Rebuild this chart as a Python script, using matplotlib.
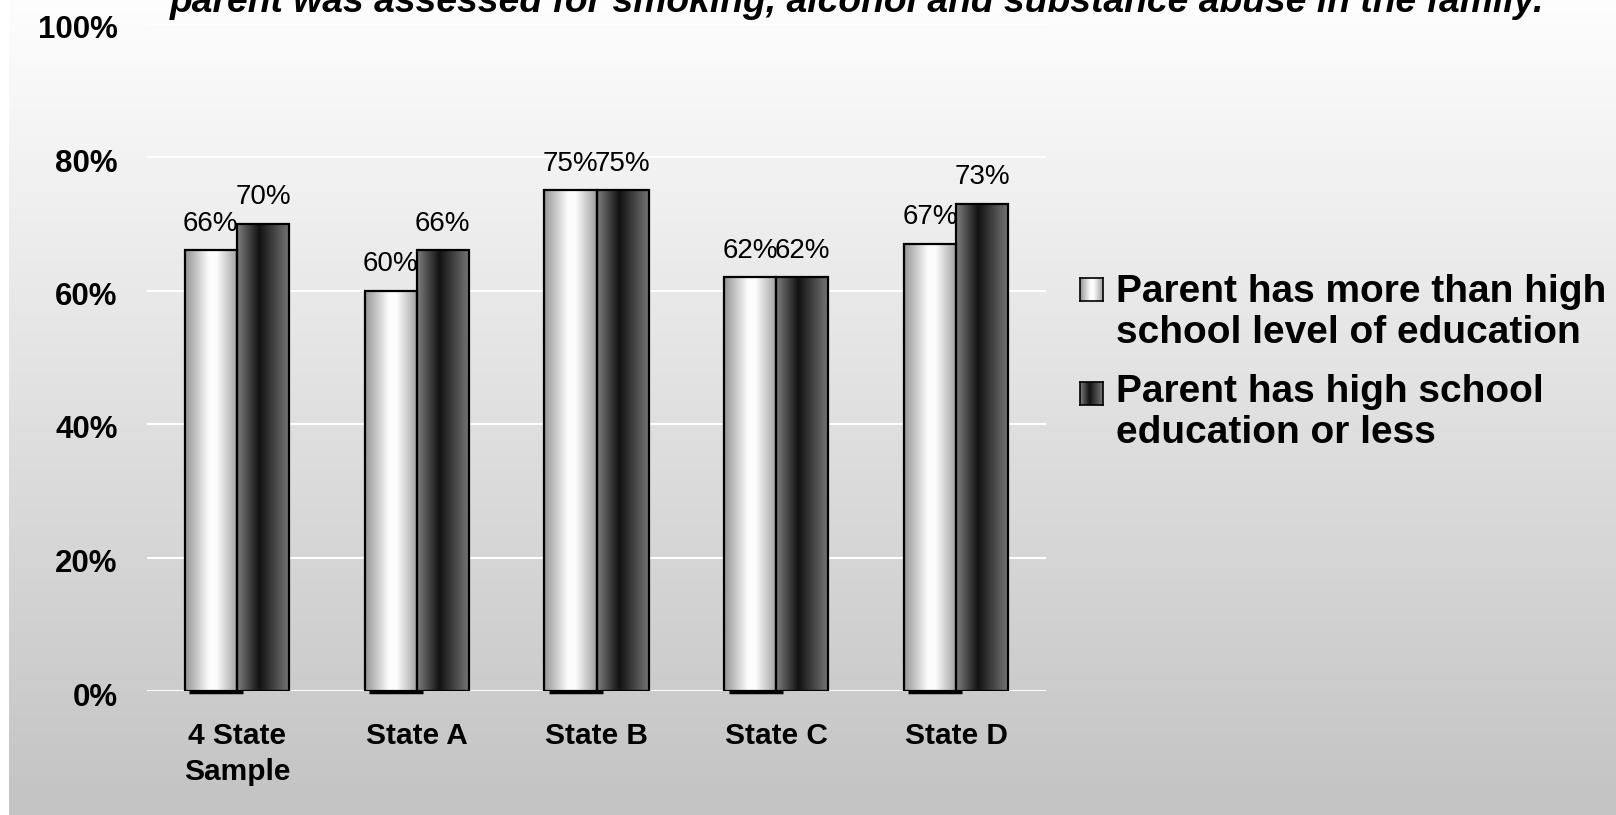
import numpy as np
import matplotlib.pyplot as plt
from matplotlib.transforms import ScaledTranslation

categories = ["4 State\nSample", "State A", "State B", "State C", "State D"]
more_than_hs = [66, 60, 75, 62, 67]
hs_or_less = [70, 66, 75, 62, 73]
series_names = ["Parent has more than high\nschool level of education",
                "Parent has high school\neducation or less"]
yticks = [0, 20, 40, 60, 80, 100]
title = "parent was assessed for smoking, alcohol and substance abuse in the family."

plt.rcParams["font.family"] = ["Liberation Sans", "DejaVu Sans"]

W, H = 1616, 815


def shade(stops, vals, n=200):
    g = np.interp(np.linspace(0, 1, n), stops, vals)
    return np.stack([g, g, g], axis=-1)[None, :, :]


light = shade([0, 0.45, 0.6, 1], [0.58, 0.99, 0.99, 0.62])
dark = shade([0, 0.42, 1], [0.50, 0.07, 0.47])

fig = plt.figure(figsize=(W / 100, H / 100), dpi=100)
fig.patch.set_facecolor("white")

# background gradient
bg = fig.add_axes([9 / W, 0, 1 - 9 / W, 1], zorder=-10)
col = np.linspace(0.995, 0.765, 256)
bg.imshow(np.stack([col, col, col], axis=-1)[:, None, :], aspect="auto",
          extent=[0, 1, 0, 1])
bg.axis("off")

ax = fig.add_axes([147 / W, 1 - 691 / H, (1046 - 147) / W, (691 - 23.5) / H])
ax.patch.set_visible(False)

x = np.arange(len(categories))
w = 0.29
for vals, img, off in [(more_than_hs, light, -w / 2), (hs_or_less, dark, w / 2)]:
    bars = ax.bar(x + off, vals, w, facecolor="none", edgecolor="black",
                  linewidth=1.6, zorder=3)
    for b, v in zip(bars, vals):
        ax.imshow(img, extent=[b.get_x(), b.get_x() + b.get_width(), 0, v],
                  aspect="auto", zorder=2)
        ax.annotate(f"{v}%", (b.get_x() + b.get_width() / 2, v),
                    xytext=(0, 14), textcoords="offset points",
                    ha="center", va="baseline", fontsize=20, zorder=5)

# shadow under the light bars
ax.hlines([-0.2] * len(x), x - w + 0.025, x + 0.035, color="black",
          linewidth=2.5, clip_on=False, zorder=1)

ax.set_xlim(-0.5, len(categories) - 0.5)
ax.set_ylim(0, 100)
ax.set_yticks(yticks)
ax.set_yticklabels([f"{t}%" for t in yticks], fontsize=22.5, fontweight="bold")
ax.set_xticks(x)
ax.set_xticklabels(categories, fontsize=21.5, fontweight="bold", linespacing=1.4)
ax.tick_params(axis="y", length=0, pad=21)
ax.tick_params(axis="x", length=0, pad=22)
shift = ScaledTranslation(0, -3 / 100, fig.dpi_scale_trans)
for lab in ax.get_yticklabels():
    lab.set_transform(lab.get_transform() + shift)
ax.yaxis.grid(True, color="white", linewidth=1.5, zorder=0)
ax.set_axisbelow(True)
for s in ax.spines.values():
    s.set_visible(False)

fig.text(170 / W, 1 - 12 / H, title, ha="left", va="baseline",
         fontsize=26.8, fontweight="bold", fontstyle="italic")

# legend drawn by hand
item_tops = [278, 382]
baselines = [[302, 343], [402, 443]]
for img, name, top, bl in zip([light, dark], series_names, item_tops, baselines):
    hax = fig.add_axes([1080 / W, 1 - (top + 23) / H, 23 / W, 23 / H])
    hax.imshow(img, aspect="auto", extent=[0, 1, 0, 1])
    hax.set_xticks([])
    hax.set_yticks([])
    for s in hax.spines.values():
        s.set_linewidth(1.2)
    for line, y in zip(name.split("\n"), bl):
        fig.text(1116 / W, 1 - y / H, line, ha="left", va="baseline",
                 fontsize=28, fontweight="bold")

fig.savefig("out.png", dpi=100)
